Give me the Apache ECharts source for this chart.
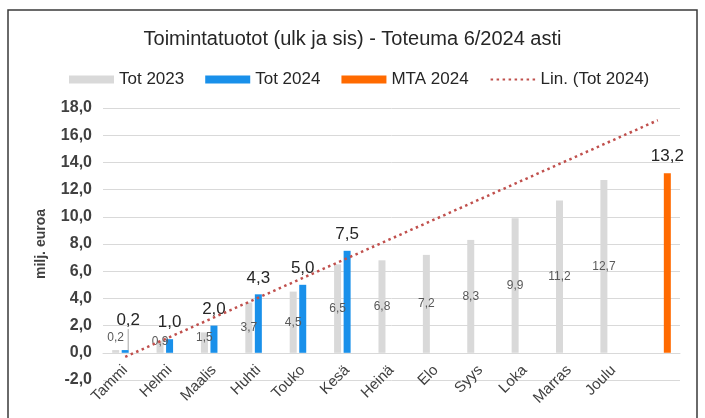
<!DOCTYPE html>
<html>
<head>
<meta charset="utf-8">
<script src="https://cdn.jsdelivr.net/npm/echarts@6/dist/echarts.min.js"></script>
<style>
html,body{margin:0;padding:0;background:#fff;}
#c{width:705px;height:418px;}
</style>
</head>
<body>
<div id="c"></div>
<script>
const categories = ['Tammi','Helmi','Maalis','Huhti','Touko','Kesä','Heinä','Elo','Syys','Loka','Marras','Joulu',''];
const tot2023 = [0.2,0.9,1.5,3.7,4.5,6.5,6.8,7.2,8.3,9.9,11.2,12.7,null];
const tot2024 = [0.2,1.0,2.0,4.3,5.0,7.5,null,null,null,null,null,null,null];
const mta2024 = [null,null,null,null,null,null,null,null,null,null,null,null,13.2];
const trendLine = [-0.3,null,null,null,null,null,null,null,null,null,null,null,17.1];
const yTicks = {min:-2, max:18, interval:2};

const FONT = 'Liberation Sans, Arial, sans-serif';
const fmt = v => v.toFixed(1).replace('.', ',');

// first Tot 2024 label is pulled up with a leader line, as in the original
const tot2024Items = tot2024.map((v,i) => i===0
  ? {value:v, labelLine:{show:true,lineStyle:{color:'#a6a6a6',width:1}}}
  : v);

// grid geometry (pixels) and the resulting offset that puts the category axis on zero
const GRID = {left:103,right:25,top:108,bottom:38};
const plotH = 418 - GRID.top - GRID.bottom;
const zeroOffset = -plotH * (0 - yTicks.min) / (yTicks.max - yTicks.min);

const chart = echarts.init(document.getElementById('c'), null, {renderer:'canvas'});
chart.setOption({
  animation:false,
  backgroundColor:'#fff',
  textStyle:{fontFamily:FONT},
  title:{
    text:'Toimintatuotot (ulk ja sis) - Toteuma 6/2024 asti',
    left:'center', top:24,
    textStyle:{fontFamily:FONT,fontSize:20,fontWeight:'normal',color:'#262626'}
  },
  graphic:[{
    type:'rect', silent:true,
    shape:{x:8,y:10,width:689,height:420},
    style:{fill:'none',stroke:'#3a3a3a',lineWidth:1.5}
  }],
  legend:{
    top:66, left:64,
    itemWidth:45, itemHeight:8, itemGap:21,
    textStyle:{fontFamily:FONT,fontSize:17,color:'#262626'},
    data:[
      {name:'Tot 2023', icon:'rect'},
      {name:'Tot 2024', icon:'rect'},
      {name:'MTA 2024', icon:'rect'},
      {name:'Lin. (Tot 2024)', itemStyle:{opacity:0}}
    ]
  },
  grid:Object.assign({containLabel:false,outerBoundsMode:'none'},GRID),
  xAxis:{
    type:'category',
    data:categories,
    offset:zeroOffset,
    axisLine:{onZero:false,lineStyle:{color:'#d9d9d9',width:1}},
    axisTick:{show:false},
    axisLabel:{rotate:45,margin:15,interval:0,fontFamily:FONT,fontSize:15,color:'#404040'}
  },
  yAxis:{
    type:'value',
    min:yTicks.min, max:yTicks.max, interval:yTicks.interval,
    name:'milj. euroa',
    nameLocation:'middle', nameGap:55, nameRotate:90,
    nameTextStyle:{fontFamily:FONT,fontSize:14,fontWeight:'bold',color:'#404040'},
    axisLine:{show:false}, axisTick:{show:false},
    axisLabel:{formatter:v=>fmt(v),fontFamily:FONT,fontSize:16,fontWeight:'bold',color:'#404040',margin:11},
    splitLine:{lineStyle:{color:'#d9d9d9',width:1}}
  },
  series:[
    {
      name:'Tot 2023', type:'bar', data:tot2023,
      barWidth:7, barGap:'36%',
      itemStyle:{color:'#d9d9d9'},
      label:{show:true,position:'inside',formatter:p=>fmt(p.value),fontFamily:FONT,fontSize:12,color:'#595959'},
      labelLayout:p=>p.dataIndex===0?{dy:-14}:(p.dataIndex<3?{dy:-5}:{})
    },
    {
      name:'Tot 2024', type:'bar', data:tot2024Items,
      barWidth:7, barGap:'36%',
      itemStyle:{color:'#1990ea'},
      label:{show:true,position:'top',distance:8,formatter:p=>fmt(p.value),fontFamily:FONT,fontSize:17,color:'#262626'},
      labelLayout:p=>p.dataIndex===0?{dx:3,dy:-13}:{}
    },
    {
      name:'MTA 2024', type:'bar', data:mta2024,
      barWidth:7, barGap:'36%',
      itemStyle:{color:'#ff6a00'},
      label:{show:true,position:'top',distance:8,formatter:p=>fmt(p.value),fontFamily:FONT,fontSize:17,color:'#262626'}
    },
    {
      name:'Lin. (Tot 2024)', type:'line', data:trendLine,
      connectNulls:true, symbol:'none', z:5,
      lineStyle:{color:'#c0504d',width:2.5,type:[2.5,3.5]},
      itemStyle:{color:'#c0504d'}
    }
  ]
});
</script>
</body>
</html>
